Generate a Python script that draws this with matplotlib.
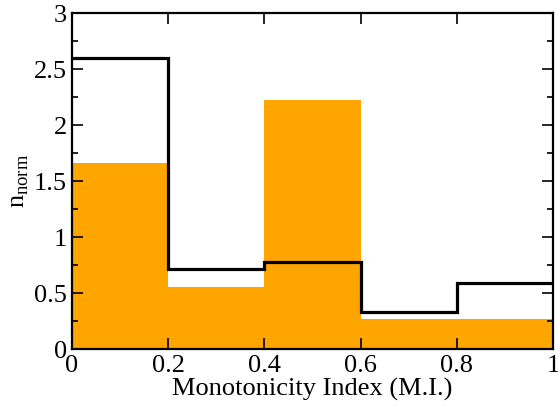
import numpy as np
from matplotlib import pyplot as plt
from matplotlib.ticker import MultipleLocator

bin_edges = [0.0, 0.2, 0.4, 0.6, 0.8, 1.0]
orange_vals = [1.66, 0.55, 2.22, 0.27, 0.27]
black_vals = [2.60, 0.71, 0.78, 0.33, 0.59]

plt.rcParams['font.family'] = ['Liberation Serif', 'DejaVu Serif']
plt.rcParams['mathtext.fontset'] = 'custom'
plt.rcParams['mathtext.rm'] = 'Liberation Serif'

fig = plt.figure(figsize=(5.58, 4.07), dpi=100)
ax = fig.add_axes([0.129, 0.1425, 0.862, 0.8255])

widths = np.diff(bin_edges)
ax.bar(bin_edges[:-1], orange_vals, width=widths, align="edge", color="#FFA500", linewidth=0)
ax.stairs(black_vals, bin_edges, color="black", linewidth=2.3, baseline=None)

ax.set_xlim(0, 1)
ax.set_ylim(0, 3)
ax.yaxis.set_minor_locator(MultipleLocator(0.25))
ax.set_xticks([0, 0.2, 0.4, 0.6, 0.8, 1.0], ["0", "0.2", "0.4", "0.6", "0.8", "1"])
ax.set_yticks([0, 0.5, 1, 1.5, 2, 2.5, 3], ["0", "0.5", "1", "1.5", "2", "2.5", "3"])

ax.tick_params(which="both", direction="in", top=True, right=True, labelsize=19)
ax.tick_params(axis="x", pad=4)
ax.tick_params(which="major", length=8, width=1.2)
ax.tick_params(which="minor", length=4, width=1.2)
for s in ax.spines.values():
    s.set_linewidth(1.6)

ax.set_xlabel("Monotonicity Index (M.I.)", fontsize=19, labelpad=1)
ax.set_ylabel(r"n$_{\mathrm{norm}}$", fontsize=19, labelpad=2)

fig.savefig("out.png", dpi=100)
